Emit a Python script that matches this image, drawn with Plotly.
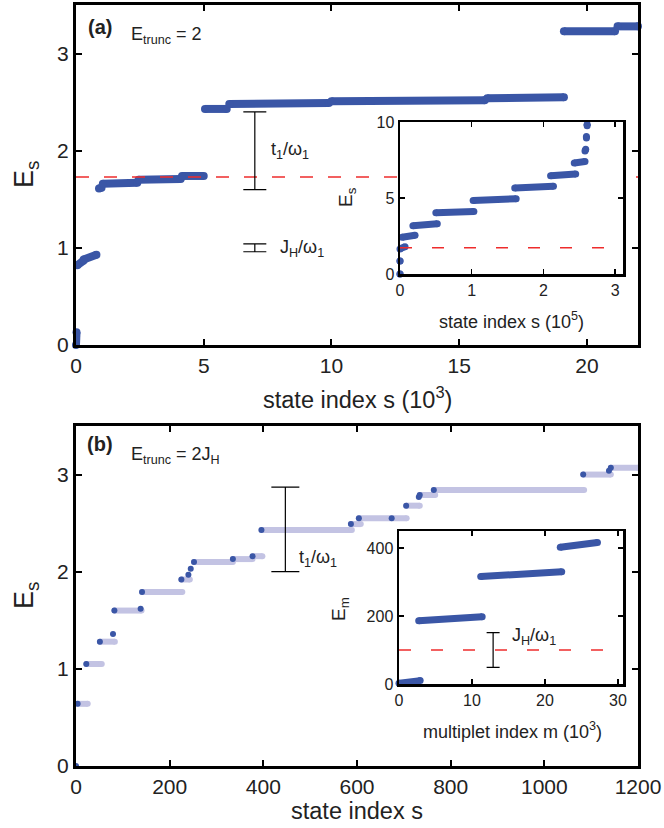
import plotly.graph_objects as go

W, H = 664, 828
def px(x): return x / W
def py(y): return 1 - y / H

BLUE = "#3a56a6"
LIGHT = "#c3c3e3"
RED = "#ee2c2c"
FONT = "Liberation Sans, Arial, sans-serif"

# ---------------- Panel (a): main, E_s vs state index s (10^3) ----------------
a_s_start = [0.0, 0.05, 0.30, 0.90, 1.05, 2.45, 4.15, 5.05, 6.00, 10.0, 16.1, 19.1, 21.2]
a_s_end   = [0.02, 0.30, 0.80, 1.00, 2.40, 4.10, 5.00, 5.90, 9.90, 16.0, 19.1, 21.1, 22.0]
a_E_start = [0.00, 0.82, 0.88, 1.61, 1.66, 1.70, 1.74, 2.43, 2.48, 2.51, 2.54, 3.23, 3.28]
a_E_end   = [0.13, 0.87, 0.93, 1.62, 1.67, 1.71, 1.74, 2.43, 2.49, 2.52, 2.55, 3.23, 3.28]
a_cut = 1.73
a_cut_s = [0.0, 22.0]
a_bar_s = [7.0, 7.0]
a_bar_E = [2.0, 1.0]
a_bar_half = [0.40, 0.04]

# ---------------- Inset (a): E_s vs state index s (10^5) ----------------
ia_s_start = [0.0, 0.0, 0.0, 0.03, 0.18, 0.50, 1.02, 1.60, 2.10, 2.43, 2.58, 2.60, 2.61]
ia_s_end   = [0.0, 0.0, 0.07, 0.21, 0.52, 1.03, 1.62, 2.14, 2.45, 2.58, 2.59, 2.60, 2.61]
ia_E_start = [0.0, 0.85, 1.65, 2.42, 3.18, 4.03, 4.83, 5.66, 6.46, 7.30, 8.10, 8.95, 9.75]
ia_E_end   = [0.0, 0.85, 1.80, 2.55, 3.30, 4.12, 4.95, 5.78, 6.58, 7.40, 8.20, 9.05, 9.85]
ia_cut = 1.73
ia_cut_s = [0.0, 2.9]

# ---------------- Panel (b): main, E_s vs state index s ----------------
b_bar_start = [3, 22, 51, 82, 141, 225, 252, 335, 377, 396, 587, 604, 705, 734, 764, 1083, 1142]
b_bar_end   = [25, 55, 83, 140, 227, 243, 335, 377, 398, 589, 608, 706, 734, 767, 1085, 1142, 1200]
b_bar_E     = [0.64, 1.05, 1.28, 1.60, 1.79, 1.92, 2.10, 2.13, 2.16, 2.43, 2.49, 2.55, 2.68, 2.79, 2.84, 3.00, 3.07]
b_dot_s = [0, 3.5, 22, 51, 79, 82, 138, 141, 225, 240, 245, 252, 335, 377, 396, 587, 604, 674,
           705, 732, 734, 764, 1083, 1138, 1142]
b_dot_E = [0.0, 0.64, 1.05, 1.28, 1.36, 1.60, 1.62, 1.79, 1.92, 1.97, 2.03, 2.10, 2.13, 2.16, 2.43,
           2.49, 2.55, 2.55, 2.68, 2.77, 2.79, 2.84, 3.00, 3.04, 3.07]
b_bar_s_err = [447]
b_bar_E_err = [2.435]
b_bar_half = [0.435]

# ---------------- Inset (b): E_m vs multiplet index m (10^3) ----------------
ib_m_start = [0.0, 2.7, 11.2, 22.1]
ib_m_end   = [2.9, 11.4, 22.3, 27.2]
ib_E_start = [2, 186, 316, 402]
ib_E_end   = [10, 198, 330, 416]
ib_cut = 100
ib_cut_m = [0.0, 28.6]
ib_err_m = [12.9]
ib_err_E = [100]
ib_err_half = [51]


def segs(x0, x1, y0, y1):
    xs, ys = [], []
    for a, b, c, d in zip(x0, x1, y0, y1):
        xs += [a, b, None]
        ys += [c, d, None]
    return xs, ys


fig = go.Figure()

# (a) main
xs, ys = segs(a_s_start, a_s_end, a_E_start, a_E_end)
fig.add_trace(go.Scatter(x=xs, y=ys, mode="lines+markers", xaxis="x", yaxis="y",
                         line=dict(color=BLUE, width=8), marker=dict(color=BLUE, size=8),
                         cliponaxis=False, hoverinfo="skip"))
fig.add_trace(go.Scatter(x=a_cut_s, y=[a_cut, a_cut], mode="lines", xaxis="x", yaxis="y",
                         line=dict(color=RED, width=1.4, dash="13px,15px"), hoverinfo="skip"))
fig.add_trace(go.Scatter(x=a_bar_s, y=a_bar_E, mode="markers", xaxis="x", yaxis="y",
                         marker=dict(size=1, color="rgba(0,0,0,0)"),
                         error_y=dict(type="data", array=a_bar_half, color="black",
                                      thickness=1.2, width=11.5), hoverinfo="skip"))

# (b) main
xs, ys = segs(b_bar_start, b_bar_end, b_bar_E, b_bar_E)
fig.add_trace(go.Scatter(x=xs, y=ys, mode="lines+markers", xaxis="x2", yaxis="y2",
                         line=dict(color=LIGHT, width=6), marker=dict(color=LIGHT, size=6),
                         cliponaxis=False, hoverinfo="skip"))
fig.add_trace(go.Scatter(x=b_dot_s, y=b_dot_E, mode="markers", xaxis="x2", yaxis="y2",
                         marker=dict(color=BLUE, size=6), cliponaxis=False, hoverinfo="skip"))
fig.add_trace(go.Scatter(x=b_bar_s_err, y=b_bar_E_err, mode="markers", xaxis="x2", yaxis="y2",
                         marker=dict(size=1, color="rgba(0,0,0,0)"),
                         error_y=dict(type="data", array=b_bar_half, color="black",
                                      thickness=1.2, width=14), hoverinfo="skip"))

# inset (a)
xs, ys = segs(ia_s_start, ia_s_end, ia_E_start, ia_E_end)
fig.add_trace(go.Scatter(x=xs, y=ys, mode="lines+markers", xaxis="x3", yaxis="y3",
                         line=dict(color=BLUE, width=7), marker=dict(color=BLUE, size=7),
                         cliponaxis=False, hoverinfo="skip"))
fig.add_trace(go.Scatter(x=ia_cut_s, y=[ia_cut, ia_cut], mode="lines", xaxis="x3", yaxis="y3",
                         line=dict(color=RED, width=1.4, dash="12px,20px"), hoverinfo="skip"))

# inset (b)
xs, ys = segs(ib_m_start, ib_m_end, ib_E_start, ib_E_end)
fig.add_trace(go.Scatter(x=xs, y=ys, mode="lines+markers", xaxis="x4", yaxis="y4",
                         line=dict(color=BLUE, width=7), marker=dict(color=BLUE, size=7),
                         cliponaxis=False, hoverinfo="skip"))
fig.add_trace(go.Scatter(x=ib_cut_m, y=[ib_cut, ib_cut], mode="lines", xaxis="x4", yaxis="y4",
                         line=dict(color=RED, width=1.4, dash="12px,20px"), hoverinfo="skip"))
fig.add_trace(go.Scatter(x=ib_err_m, y=ib_err_E, mode="markers", xaxis="x4", yaxis="y4",
                         marker=dict(size=1, color="rgba(0,0,0,0)"),
                         error_y=dict(type="data", array=ib_err_half, color="black",
                                      thickness=1.2, width=6.5), hoverinfo="skip"))


def ax(domain, rng, tickvals, anchor, main=True):
    return dict(domain=domain, range=rng, tickvals=tickvals, anchor=anchor,
                showgrid=False, zeroline=False, showline=True, linecolor="black",
                linewidth=3 if main else 2.5, mirror="ticks", ticks="inside",
                ticklen=6 if main else 5, tickwidth=2 if main else 1.5, tickcolor="black",
                tickfont=dict(size=21 if main else 16, color="#222"), fixedrange=True)


layout = dict(
    width=W, height=H, margin=dict(l=0, r=0, t=0, b=0, autoexpand=False),
    autosize=False,
    paper_bgcolor="white", plot_bgcolor="white", showlegend=False,
    font=dict(family=FONT, color="#222"),
    xaxis=ax([px(76), px(638)], [0, 22], [0, 5, 10, 15, 20], "y"),
    yaxis=ax([py(345), py(5)], [0, 3.5], [0, 1, 2, 3], "x"),
    xaxis2=ax([px(76), px(638)], [0, 1200], [0, 200, 400, 600, 800, 1000, 1200], "y2"),
    yaxis2=ax([py(766), py(426)], [0, 3.5], [0, 1, 2, 3], "x2"),
    xaxis3=ax([px(400), px(623)], [0, 3.11], [0, 1, 2, 3], "y3", main=False),
    yaxis3=ax([py(274), py(122)], [0, 10], [0, 5, 10], "x3", main=False),
    xaxis4=ax([px(399), px(623)], [0, 30.7], [0, 10, 20, 30], "y4", main=False),
    yaxis4=ax([py(684), py(531)], [0, 450], [0, 200, 400], "x4", main=False),
)
fig.update_layout(**layout)

ann = []
def A(text, x, y, size, xref="paper", yref="paper", xanchor="center", yanchor="middle", angle=0):
    ann.append(dict(text=text, x=x, y=y, xref=xref, yref=yref, xanchor=xanchor,
                    yanchor=yanchor, showarrow=False, textangle=angle,
                    font=dict(size=size, family=FONT, color="#222")))

# panel labels
A("<b>(a)</b>", px(100), py(27), 20)
A("E<sub>trunc</sub> = 2", px(129), py(36), 18, xanchor="left")
A("<b>(b)</b>", px(100), py(444), 20)
A("E<sub>trunc</sub> = 2J<sub>H</sub>", px(129), py(455), 18, xanchor="left")

# axis titles
A("state index s (10<sup>3</sup>)", px(357), py(398), 23.5)
A("E<sub>s</sub>", px(26), py(175), 27, angle=-90)
A("state index s", px(357), py(811), 23.5)
A("E<sub>s</sub>", px(26), py(596), 27, angle=-90)
A("state index s (10<sup>5</sup>)", px(511), py(321), 18)
A("E<sub>s</sub>", px(347), py(197), 19, angle=-90)
A("multiplet index m (10<sup>3</sup>)", px(512), py(730), 18)
A("E<sub>m</sub>", px(340), py(609), 19, angle=-90)

# error bar labels
A("t<sub>1</sub>/ω<sub>1</sub>", 7.55, 2.0, 18, xref="x", yref="y", xanchor="left")
A("J<sub>H</sub>/ω<sub>1</sub>", 7.9, 0.99, 18, xref="x", yref="y", xanchor="left")
A("t<sub>1</sub>/ω<sub>1</sub>", 472, 2.14, 18, xref="x2", yref="y2", xanchor="left")
A("J<sub>H</sub>/ω<sub>1</sub>", 15.2, 140, 18, xref="x4", yref="y4", xanchor="left")

fig.update_layout(annotations=ann)
fig.write_html("out.html", config={"displayModeBar": False, "staticPlot": True},
               post_script="document.body.style.margin='0';document.body.style.padding='0';"
                           "document.documentElement.style.overflow='hidden';")
